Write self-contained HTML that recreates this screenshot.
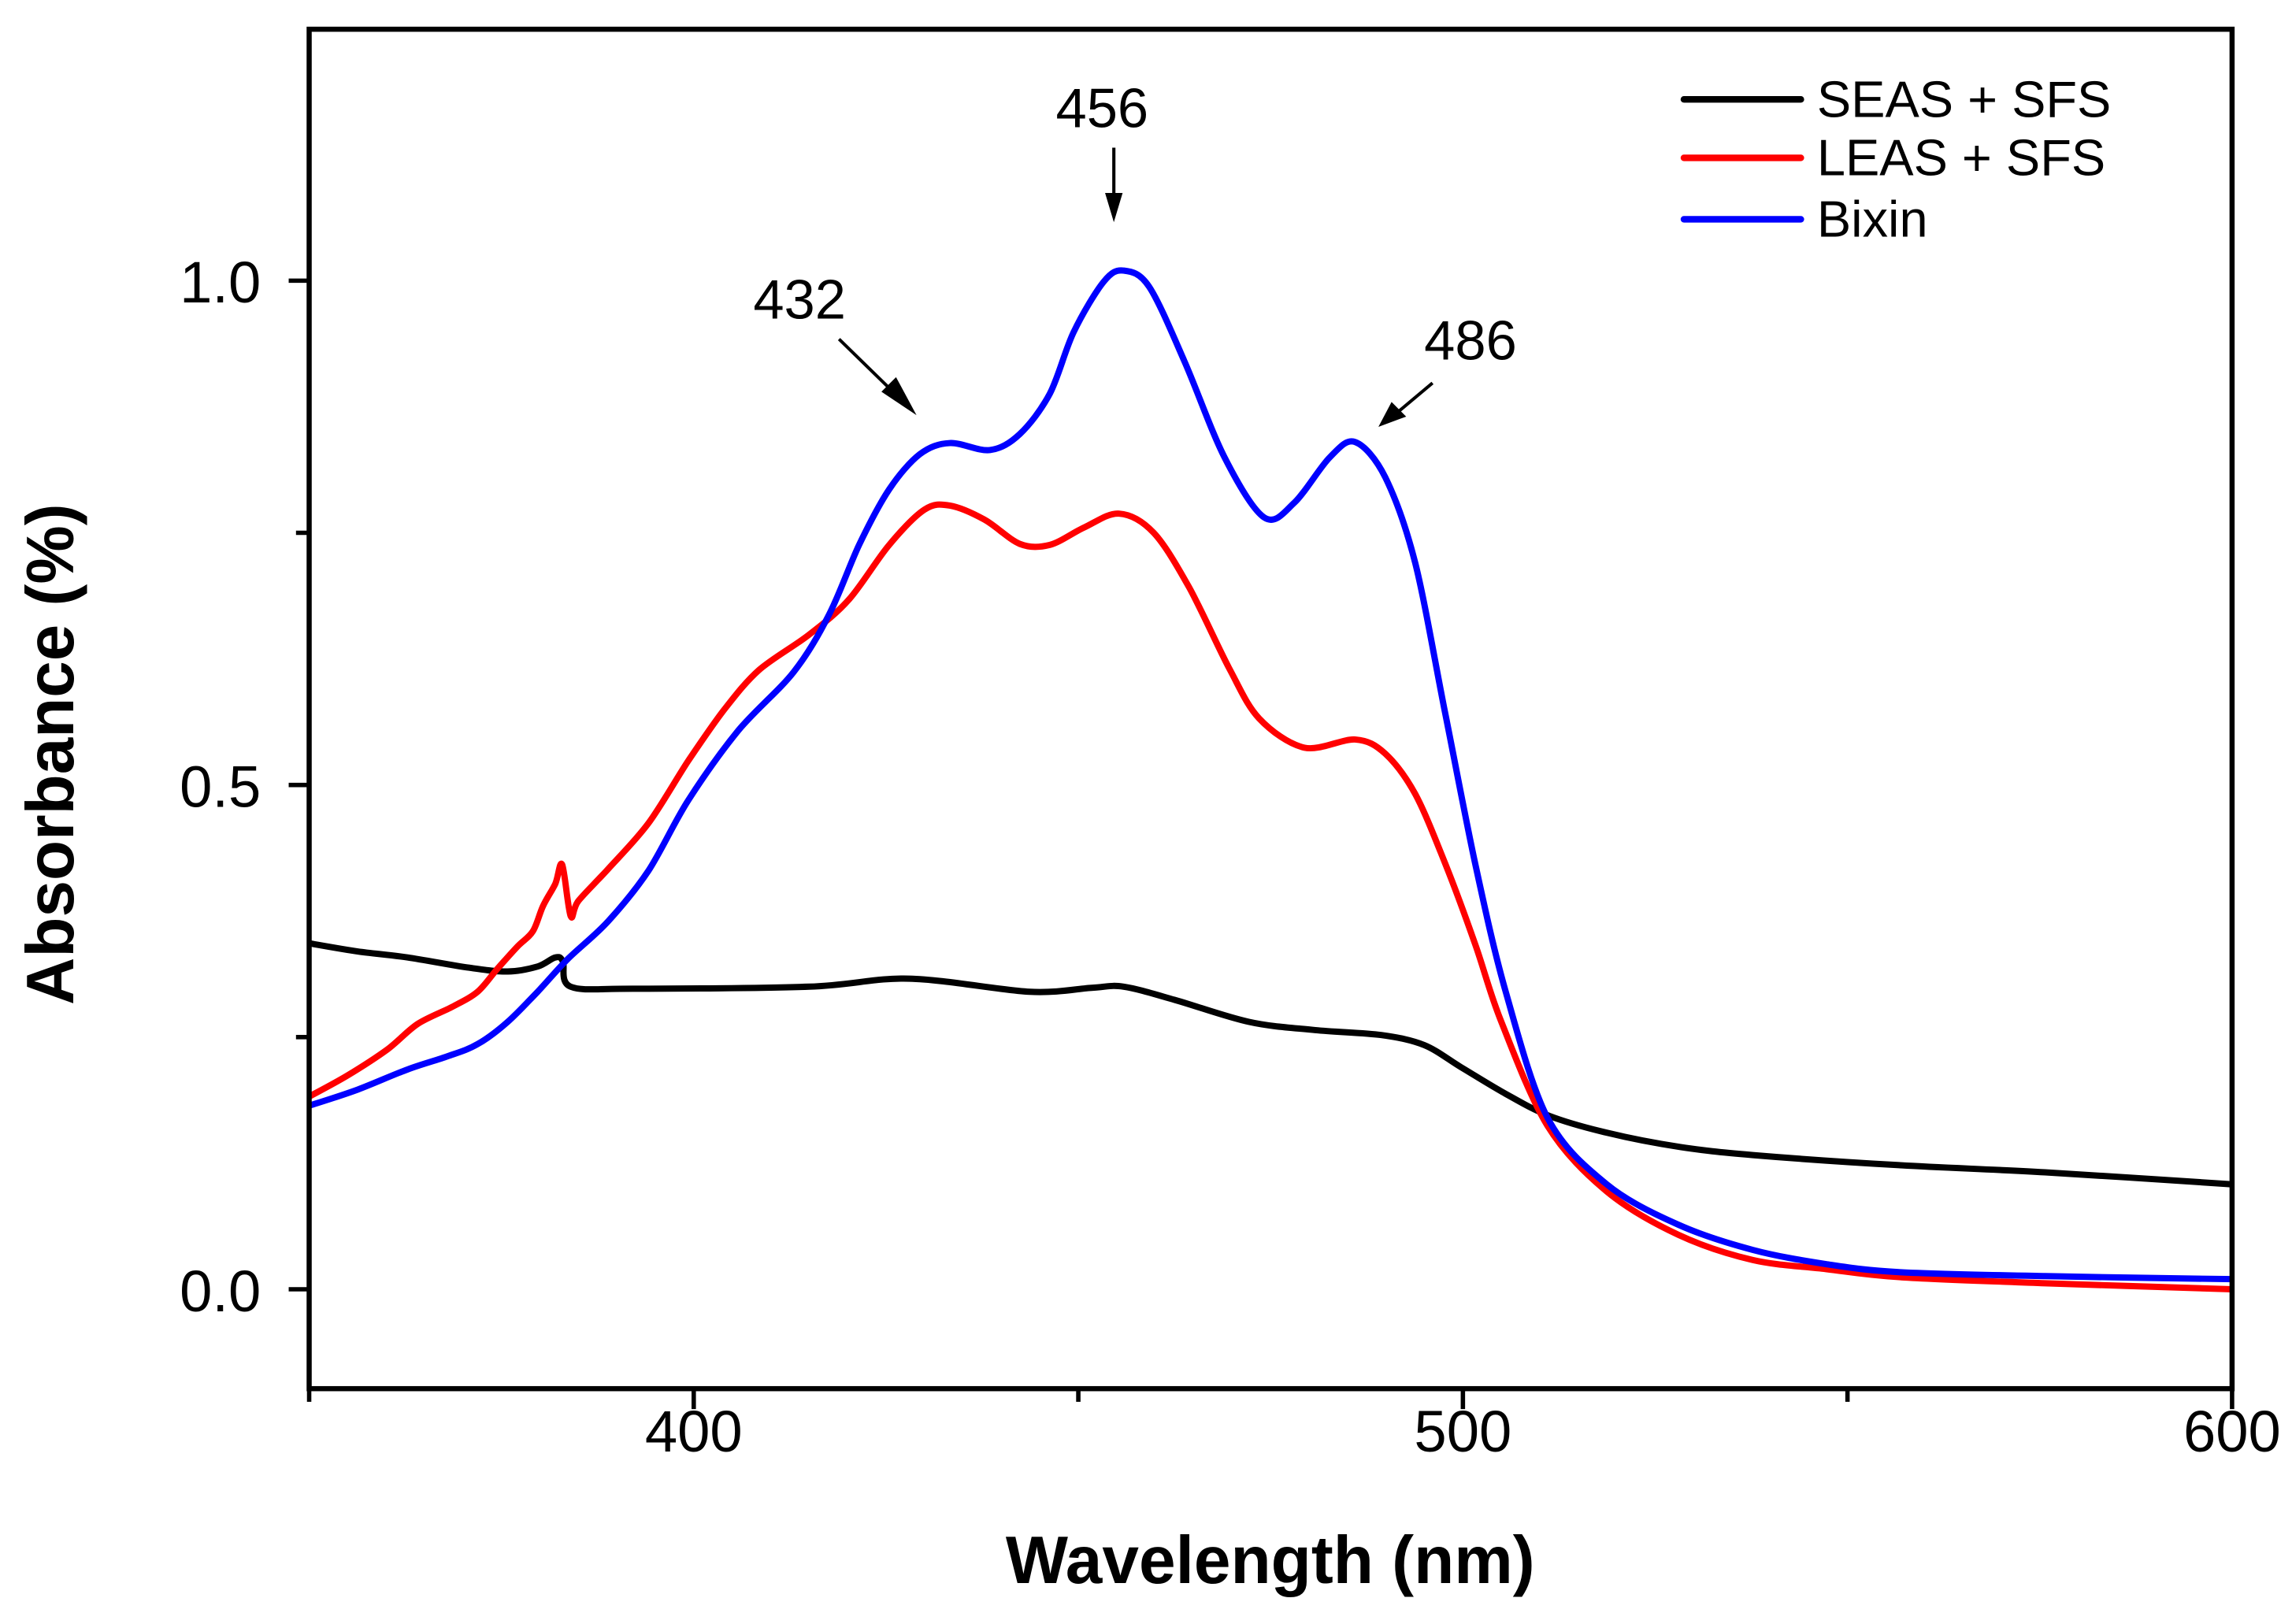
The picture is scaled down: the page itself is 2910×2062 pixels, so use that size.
<!DOCTYPE html>
<html><head><meta charset="utf-8"><style>
html,body{margin:0;padding:0;background:#fff;}
svg{display:block;}
text{font-family:"Liberation Sans",Arial,sans-serif;}
</style></head><body>
<svg id="chart" width="2910" height="2062" viewBox="0 0 1568 1111" preserveAspectRatio="none" xmlns="http://www.w3.org/2000/svg">
<rect x="0" y="0" width="1568" height="1111" fill="#fff"/>
<g id="series"></g>
<g id="axes"></g>
<text x="869" y="1083" font-size="46" font-weight="bold" text-anchor="middle" textLength="362" lengthAdjust="spacingAndGlyphs">Wavelength (nm)</text>
<text transform="translate(50,516) rotate(-90)" font-size="46" font-weight="bold" text-anchor="middle" textLength="343" lengthAdjust="spacingAndGlyphs">Absorbance (%)</text>
<g>
<line x1="1152" y1="68" x2="1232" y2="68" stroke="#000" stroke-width="4.5" stroke-linecap="round"/>
<text x="1243" y="80" font-size="35">SEAS + SFS</text>
<line x1="1152" y1="108" x2="1232" y2="108" stroke="#ff0000" stroke-width="4.5" stroke-linecap="round"/>
<text x="1243" y="120" font-size="35">LEAS + SFS</text>
<line x1="1152" y1="150" x2="1232" y2="150" stroke="#0000ff" stroke-width="4.5" stroke-linecap="round"/>
<text x="1243" y="162" font-size="35">Bixin</text>
</g>
<g>
<text x="547" y="218" font-size="38" text-anchor="middle">432</text>
<line x1="574" y1="232" x2="615" y2="272" stroke="#000" stroke-width="2.2"/>
<polygon points="627,284 603,268 613,258" fill="#000"/>
<text x="754" y="87" font-size="38" text-anchor="middle">456</text>
<line x1="762" y1="101" x2="762" y2="135" stroke="#000" stroke-width="2.2"/>
<polygon points="762,152 756,132 768,132" fill="#000"/>
<text x="1006" y="246" font-size="38" text-anchor="middle">486</text>
<line x1="980" y1="262" x2="955" y2="283" stroke="#000" stroke-width="2.2"/>
<polygon points="943,292 952,275 962,285" fill="#000"/>
</g>
</svg>
<script>
const seasX = [350,356.3,362.8,370.6,375.8,379.7,382,383,384,392.1,415,428,443.7,451.9,455.9,462.5,472.2,480.8,489.4,495,499.8,505.5,511.2,518.8,528.3,537.7,556.7,575.7,600];
const seasY = [0.343,0.335,0.329,0.319,0.315,0.320,0.329,0.325,0.300,0.298,0.300,0.308,0.295,0.299,0.300,0.287,0.265,0.257,0.252,0.242,0.220,0.194,0.172,0.155,0.141,0.133,0.123,0.116,0.104];
const leasX = [350,355,360.2,364.1,368.6,371.9,374.5,377.1,379.1,380.4,382,382.9,384,385,388.9,394.1,399.3,403.9,408.5,415,420.2,425.4,430,433.3,437.8,442.4,446.3,450.7,455.3,459.8,464.4,469.6,473.5,479.4,486,489.9,493.8,497.7,501.6,504.9,511,518.7,528,537.7,547.2,556.7,575.7,600];
const leasY = [0.191,0.212,0.238,0.263,0.280,0.295,0.318,0.340,0.355,0.380,0.402,0.421,0.370,0.385,0.417,0.462,0.524,0.574,0.614,0.649,0.684,0.738,0.773,0.777,0.763,0.739,0.738,0.755,0.769,0.750,0.696,0.616,0.566,0.537,0.545,0.531,0.491,0.422,0.342,0.267,0.162,0.097,0.054,0.029,0.020,0.012,0.006,0.000];
const bixX = [350,356.3,362.8,368,371.9,375.8,379.7,383.7,388.9,394.1,399.3,405.8,413,417.6,421.5,425.4,429.4,433.3,438.5,442.4,446.3,449.4,453.3,455.9,459.2,463.8,469,474.2,478.1,482.7,486,489.9,493.8,497.7,501.6,505.5,511,518.7,528,537.7,547.2,556.7,575.7,600];
const bixY = [0.182,0.198,0.218,0.231,0.243,0.265,0.295,0.328,0.365,0.415,0.485,0.554,0.612,0.669,0.738,0.793,0.828,0.839,0.832,0.848,0.888,0.949,0.999,1.010,0.994,0.920,0.825,0.765,0.780,0.825,0.840,0.805,0.720,0.571,0.422,0.297,0.170,0.104,0.064,0.039,0.025,0.017,0.013,0.010];
const xTicks = [400,500,600];
const xTickLabels = ["400","500","600"];
const xMinor = [350,450,550];
const yTicks = [0,0.5,1.0];
const yTickLabels = ["0.0","0.5","1.0"];
const yMinor = [0.25,0.75];

const L=211.5,R=1527,T=20,B=950;
const X0=350,X1=600;
function sx(w){return L+(w-X0)/(X1-X0)*(R-L);}
function sy(v){return 882-v*690;}
const NS="http://www.w3.org/2000/svg";
const sg=document.getElementById('series');
const ag=document.getElementById('axes');
function mk(tag,attrs,parent){const e=document.createElementNS(NS,tag);for(const k in attrs)e.setAttribute(k,attrs[k]);parent.appendChild(e);return e;}
function drawSeries(xs,ys,color,name){
  const P=xs.map((x,i)=>[sx(x),sy(ys[i])]);
  let d='M'+P[0][0].toFixed(1)+','+P[0][1].toFixed(1);
  const k=0.16;
  for(let i=0;i<P.length-1;i++){
    const p0=P[Math.max(0,i-1)],p1=P[i],p2=P[i+1],p3=P[Math.min(P.length-1,i+2)];
    const c1=[p1[0]+(p2[0]-p0[0])*k,p1[1]+(p2[1]-p0[1])*k];
    const c2=[p2[0]-(p3[0]-p1[0])*k,p2[1]-(p3[1]-p1[1])*k];
    d+='C'+c1[0].toFixed(1)+','+c1[1].toFixed(1)+' '+c2[0].toFixed(1)+','+c2[1].toFixed(1)+' '+p2[0].toFixed(1)+','+p2[1].toFixed(1);
  }
  const p=mk('path',{d:d,fill:'none',stroke:color,'stroke-width':4.3,'stroke-linejoin':'round'},sg);
  
  
}
drawSeries(seasX,seasY,'#000000','series-seas-sfs');
drawSeries(leasX,leasY,'#ff0000','series-leas-sfs');
drawSeries(bixX,bixY,'#0000ff','series-bixin');

const frame=mk('rect',{x:L,y:T,width:R-L,height:B-T,fill:'none',stroke:'#000','stroke-width':3.5},ag);


xTicks.forEach((t,i)=>{
  const l=mk('line',{x1:sx(t),y1:B,x2:sx(t),y2:B+14,stroke:'#000','stroke-width':3},ag);
  
  
  const tx=mk('text',{x:sx(t),y:B+43,'font-size':40,'text-anchor':'middle'},ag);
  tx.textContent=xTickLabels[i];
  
  
});
xMinor.forEach(t=>{
  const l=mk('line',{x1:sx(t),y1:B,x2:sx(t),y2:B+9,stroke:'#000','stroke-width':3},ag);
  
  
});
yTicks.forEach((t,i)=>{
  const l=mk('line',{x1:L-14,y1:sy(t),x2:L,y2:sy(t),stroke:'#000','stroke-width':3},ag);
  
  
  const tx=mk('text',{x:L-33,y:sy(t)+15,'font-size':40,'text-anchor':'end'},ag);
  tx.textContent=yTickLabels[i];
  
  
});
yMinor.forEach(t=>{
  const l=mk('line',{x1:L-9,y1:sy(t),x2:L,y2:sy(t),stroke:'#000','stroke-width':3},ag);
  
  
});
</script>
</body></html>
